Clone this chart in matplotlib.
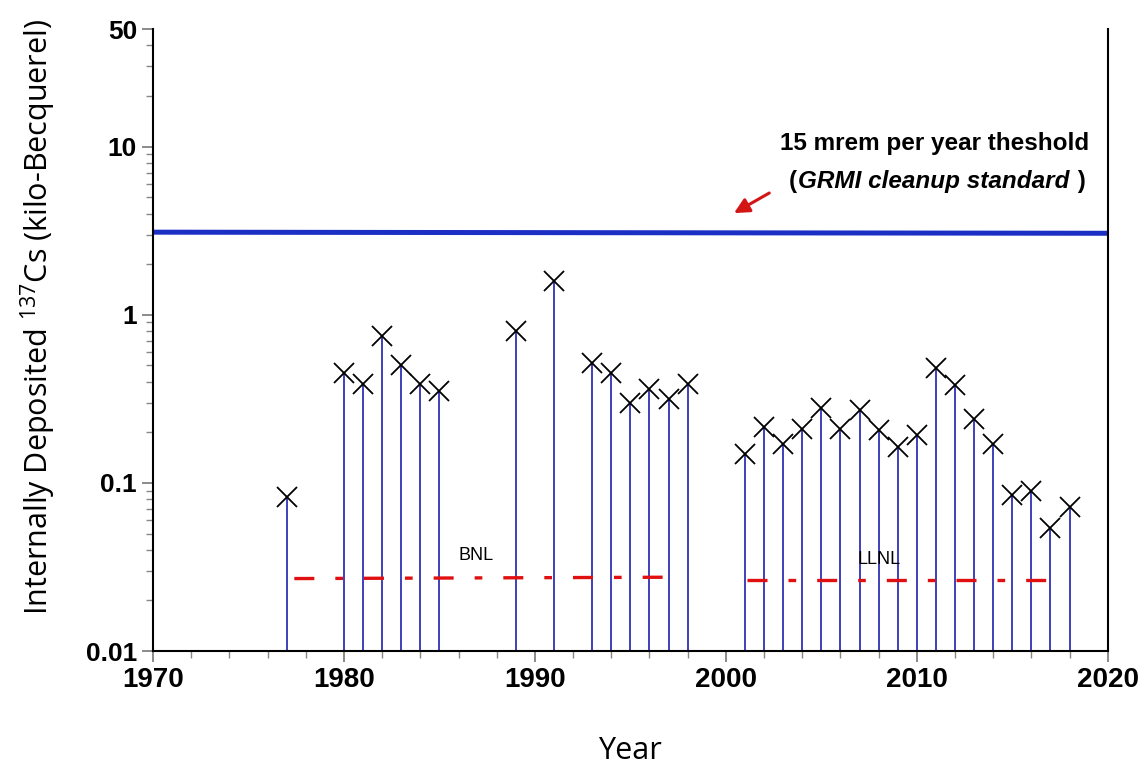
import numpy as np
import matplotlib.pyplot as plt
from matplotlib.ticker import MultipleLocator, LogLocator, FixedLocator, NullFormatter
from matplotlib.offsetbox import TextArea, HPacker, AnnotationBbox

# yearly values (kBq)
years = [1977, 1980, 1981, 1982, 1983, 1984, 1985, 1989, 1991, 1993, 1994,
         1995, 1996, 1997, 1998, 2001, 2002, 2003, 2004, 2005, 2006, 2007,
         2008, 2009, 2010, 2011, 2012, 2013, 2014, 2015, 2016, 2017, 2018]
cs137 = [0.082, 0.45, 0.39, 0.75, 0.50, 0.39, 0.35, 0.80, 1.58, 0.52, 0.45,
         0.30, 0.36, 0.315, 0.39, 0.149, 0.215, 0.17, 0.21, 0.28, 0.21, 0.27,
         0.206, 0.163, 0.193, 0.48, 0.38, 0.24, 0.17, 0.085, 0.089, 0.054, 0.072]

threshold = 3.1
bnl_x = [1977.4, 1996.9]
bnl_y = [0.027, 0.0275]
llnl_x = [2001.1, 2016.9]
llnl_y = [0.0265, 0.0265]

plt.rcParams['font.family'] = ['Liberation Sans', 'DejaVu Sans']
plt.rcParams['mathtext.fontset'] = 'custom'
plt.rcParams['mathtext.it'] = 'Open Sans:italic'
plt.rcParams['mathtext.rm'] = 'Open Sans'

fig = plt.figure(figsize=(11.42, 7.66), dpi=100)
ax = fig.add_axes([0.134, 0.150, 0.836, 0.812])

# stems + crosses
ax.vlines(years, 0.01, cs137, color='#3030b8', linewidth=1.3, zorder=2)
ax.plot(years, cs137, 'x', color='black', markersize=15, markeredgewidth=1.3, zorder=3)

# threshold line
ax.plot([1970, 2020], [threshold, threshold * 0.985], color='#1c2fc4', linewidth=3.6, zorder=2)

# detection limit lines
dash = (0, (6.0, 6.3, 2.3, 6.3))
ax.plot(bnl_x, bnl_y, color='#e01010', linewidth=2.4, linestyle=dash, zorder=2)
ax.plot(llnl_x, llnl_y, color='#e01010', linewidth=2.4, linestyle=dash, zorder=2)
ax.text(1986.9, 0.033, 'BNL', fontsize=13, ha='center', va='bottom')
ax.text(2008.0, 0.031, 'LLNL', fontsize=13, ha='center', va='bottom')

# annotation
ax.annotate('', xy=(2000.3, 3.95), xytext=(2002.4, 5.4),
            arrowprops=dict(arrowstyle='-|>,head_length=0.9,head_width=0.45',
                            color='#d41515', linewidth=2.2))
ax.text(2019.0, 10.5, '15 mrem per year theshold', fontsize=17.5, fontweight='bold',
        ha='right', va='center')
parts = HPacker(children=[
    TextArea('(', textprops=dict(fontsize=17.5, fontweight='bold')),
    TextArea('GRMI cleanup standard', textprops=dict(fontsize=17.5, fontweight='bold', style='italic')),
    TextArea(' )', textprops=dict(fontsize=17.5, fontweight='bold')),
], pad=0, sep=1, align='baseline')
ab = AnnotationBbox(parts, (2018.85, 6.2), xycoords='data', box_alignment=(1, 0.5),
                    frameon=False, pad=0)
ax.add_artist(ab)

# axes
ax.set_yscale('log')
ax.set_xlim(1970, 2020)
ax.set_ylim(0.01, 50)
ax.yaxis.set_major_locator(FixedLocator([0.01, 0.1, 1, 10, 50]))
ax.set_yticklabels(['0.01', '0.1', '1', '10', '50'])
ax.yaxis.set_minor_locator(LogLocator(base=10, subs=np.arange(2, 10)))
ax.yaxis.set_minor_formatter(NullFormatter())
ax.xaxis.set_major_locator(MultipleLocator(10))
ax.xaxis.set_minor_locator(MultipleLocator(2))

ax.spines['top'].set_visible(False)
for s in ['left', 'bottom', 'right']:
    ax.spines[s].set_linewidth(1.5)
ax.tick_params(axis='both', which='major', direction='out', length=8, width=1.2,
               color='#777777', labelsize=20)
ax.tick_params(axis='y', which='major', labelsize=19)
ax.tick_params(axis='both', which='minor', direction='out', length=5, width=1,
               color='#888888')
for lab in ax.get_xticklabels() + ax.get_yticklabels():
    lab.set_fontweight('bold')

ax.set_xlabel('Year', fontsize=22, family=['Open Sans', 'DejaVu Sans'],
              fontweight='medium', labelpad=31)
ax.set_ylabel(r'Internally Deposited $^{\mathit{137}}$Cs (kilo-Becquerel)', fontsize=22,
              family=['Open Sans', 'DejaVu Sans'], fontweight='medium')
ax.yaxis.set_label_coords(-0.10, 0.537)

plt.savefig('out.png', dpi=100)
